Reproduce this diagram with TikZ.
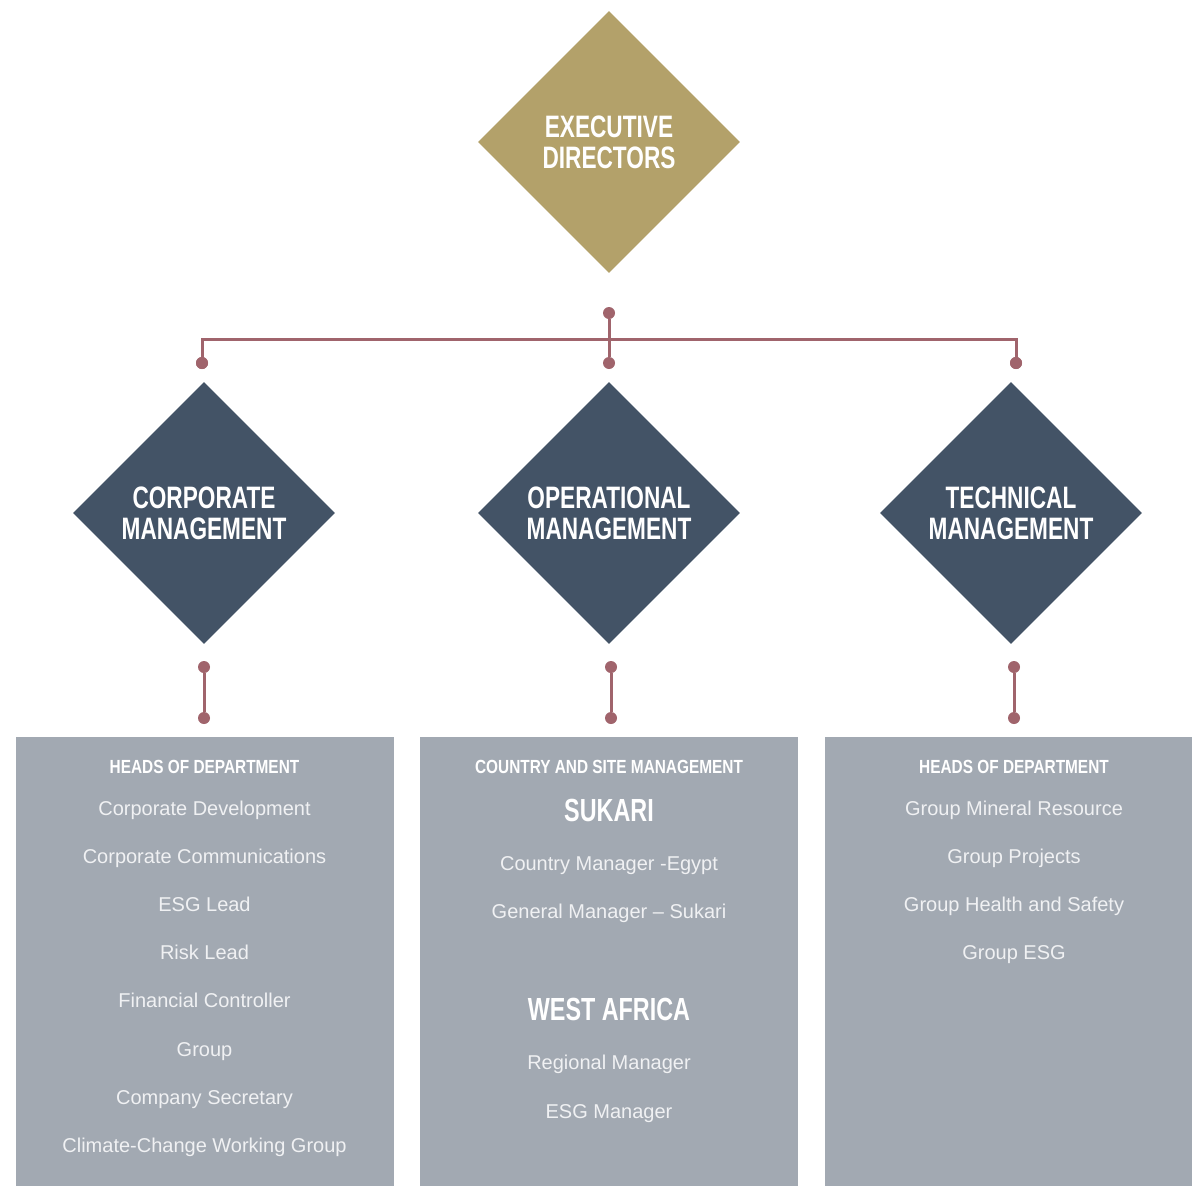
\documentclass[tikz,border=0pt]{standalone}
\usepackage{fontspec}
\setmainfont{Liberation Sans}
\newfontfamily\condfont[FakeStretch=0.73]{Liberation Sans Bold}
\newfontfamily\headfont[FakeStretch=0.81]{Liberation Sans Bold}
\usetikzlibrary{shapes.geometric}
\definecolor{gold}{HTML}{B3A16A}
\definecolor{slate}{HTML}{435366}
\definecolor{boxgray}{HTML}{A2A9B2}
\definecolor{linkred}{HTML}{A0646C}
\definecolor{bodytxt}{HTML}{F0F1F3}
\tikzset{
  dia/.style={diamond, aspect=1, minimum width=262pt, minimum height=262pt, inner sep=0pt,
    text=white, align=center, font=\condfont\fontsize{31}{31}\selectfont},
  dot/.style={circle, fill=linkred, inner sep=0pt, minimum size=12pt},
  link/.style={draw=linkred, line width=3pt},
  panel/.style={fill=boxgray, anchor=north west, inner sep=0pt},
  head/.style={anchor=base, text=white, font=\headfont\fontsize{19}{19}\selectfont},
  big/.style={anchor=base, text=white, font=\condfont\fontsize{32}{32}\selectfont},
  item/.style={anchor=base, text=bodytxt, font=\fontsize{20}{24}\selectfont},
}
\begin{document}
\begin{tikzpicture}[x=1pt,y=-1pt]
\useasboundingbox[fill=white] (0,0) rectangle (1192,1186);

% diamonds
\node[dia, fill=gold] (exec) at (609,142) {EXECUTIVE\\[0pt]DIRECTORS};
\node[dia, fill=slate] (corp) at (204,513) {CORPORATE\\[0pt]MANAGEMENT};
\node[dia, fill=slate] (oper) at (609,513) {OPERATIONAL\\[0pt]MANAGEMENT};
\node[dia, fill=slate] (tech) at (1011,513) {TECHNICAL\\[0pt]MANAGEMENT};

% top connector
\coordinate (hL) at (202,339);
\coordinate (hR) at (1016,339);
\node[dot] (d0) at (609,313) {};
\node[dot] (dM) at (609,363) {};
\node[dot] (dL) at (202,363) {};
\node[dot] (dR) at (1016,363) {};
\draw[link] (d0) -- (dM);
\draw[link] (dL.center) -- (hL) -- (hR) -- (dR.center);
\node[dot] at (dL) {};
\node[dot] at (dR) {};

% lower connectors
\node[dot] (l1) at (204,667) {};
\node[dot] (l2) at (204,718) {};
\node[dot] (m1) at (611,667) {};
\node[dot] (m2) at (611,718) {};
\node[dot] (r1) at (1014,667) {};
\node[dot] (r2) at (1014,718) {};
\draw[link] (l1) -- (l2);
\draw[link] (m1) -- (m2);
\draw[link] (r1) -- (r2);

% panels
\node[panel, minimum width=378pt, minimum height=449pt] (pL) at (16,737) {};
\node[panel, minimum width=378pt, minimum height=449pt] (pM) at (420,737) {};
\node[panel, minimum width=367pt, minimum height=449pt] (pR) at (825,737) {};

% left panel text
\node[head] (lh) at (204.5,773) {HEADS OF DEPARTMENT};
\node[item] (la) at (204.5,815) {Corporate Development};
\node[item] (lb) at (204.5,863) {Corporate Communications};
\node[item] (lc) at (204.5,911) {ESG Lead};
\node[item] (ld) at (204.5,959) {Risk Lead};
\node[item] (le) at (204.5,1007) {Financial Controller};
\node[item] (lf) at (204.5,1056) {Group};
\node[item] (lg) at (204.5,1104) {Company Secretary};
\node[item] (li) at (204.5,1152) {Climate-Change Working Group};

% middle panel text
\node[head] (mh) at (609,773) {COUNTRY AND SITE MANAGEMENT};
\node[big] (ms) at (609,821) {SUKARI};
\node[item] (ma) at (609,870) {Country Manager -Egypt};
\node[item] (mb) at (609,918) {General Manager -- Sukari};
\node[big] (mw) at (609,1020) {WEST AFRICA};
\node[item] (mc) at (609,1069) {Regional Manager};
\node[item] (md) at (609,1118) {ESG Manager};

% right panel text
\node[head] (rh) at (1014,773) {HEADS OF DEPARTMENT};
\node[item] (ra) at (1014,815) {Group Mineral Resource};
\node[item] (rb) at (1014,863) {Group Projects};
\node[item] (rc) at (1014,911) {Group Health and Safety};
\node[item] (rd) at (1014,959) {Group ESG};
\end{tikzpicture}
\end{document}
